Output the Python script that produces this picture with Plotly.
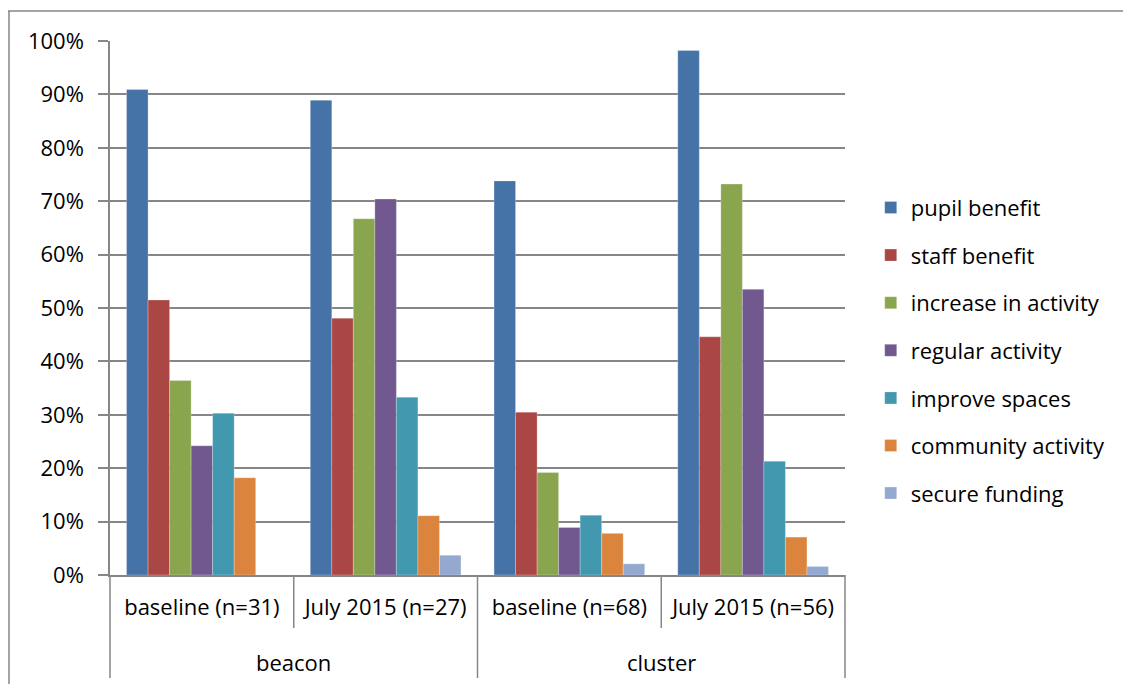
import plotly.graph_objects as go

group_names = ["beacon", "cluster"]
periods = ["baseline (n=31)", "July 2015 (n=27)", "baseline (n=68)", "July 2015 (n=56)"]

series_names = ["pupil benefit", "staff benefit", "increase in activity", "regular activity",
                "improve spaces", "community activity", "secure funding"]
pupil_benefit = [0.909, 0.889, 0.738, 0.982]
staff_benefit = [0.515, 0.481, 0.305, 0.446]
increase_in_activity = [0.364, 0.667, 0.192, 0.732]
regular_activity = [0.242, 0.704, 0.089, 0.535]
improve_spaces = [0.303, 0.333, 0.112, 0.213]
community_activity = [0.182, 0.111, 0.078, 0.071]
secure_funding = [0.0, 0.037, 0.021, 0.016]
colors = ["#4572A7", "#AA4643", "#89A54E", "#71588F", "#4198AF", "#DB843D", "#93A9CF"]

all_values = [pupil_benefit, staff_benefit, increase_in_activity, regular_activity,
              improve_spaces, community_activity, secure_funding]

FONT = "Open Sans"
FS = 22
GRID = "#868686"

fig = go.Figure()
for name, vals, col in zip(series_names, all_values, colors):
    fig.add_trace(go.Bar(
        x=periods, y=vals, name=name, legendgroup=name,
        marker=dict(color=col, line=dict(color="rgba(255,255,255,0.5)", width=0.5)),
    ))

# page has an 8px body margin; figure is sized to fit the window
W, H = 1123, 676
L, T = 102, 33
R = W - 837
B = H - 567
pw, ph = W - L - R, H - T - B

shapes = [
    # chart border (top and left)
    dict(type="line", xref="paper", yref="paper",
         x0=(0 - L) / pw, x1=(W - L) / pw, y0=(ph + T - 3) / ph, y1=(ph + T - 3) / ph,
         line=dict(color=GRID, width=1.5)),
    dict(type="line", xref="paper", yref="paper",
         x0=(1 - L) / pw, x1=(1 - L) / pw, y0=(ph + T - 3) / ph, y1=-B / ph,
         line=dict(color=GRID, width=1.5)),
]
# category boundary ticks (short) and group dividers (long)
n = len(periods)
for i in range(n + 1):
    long_line = (i % 2 == 0)
    depth = 103 if long_line else 53
    shapes.append(dict(type="line", xref="paper", yref="paper",
                       x0=i / n, x1=i / n, y0=0, y1=-depth / ph,
                       line=dict(color=GRID, width=1.5)))

annotations = []
for j, g in enumerate(group_names):
    annotations.append(dict(text=g, xref="paper", yref="paper", x=(2 * j + 1) / n,
                            y=-87 / ph, xanchor="center", yanchor="middle",
                            showarrow=False, font=dict(family=FONT, size=FS, color="#000")))

fig.update_layout(
    width=W, height=H,
    margin=dict(l=L, r=R, t=T, b=B, pad=0),
    barmode="group", bargap=0.18, bargroupgap=0,
    plot_bgcolor="white", paper_bgcolor="white",
    font=dict(family=FONT, size=FS, color="#000000"),
    legend=dict(x=1.035, y=0.42, xanchor="left", yanchor="middle",
                font=dict(family=FONT, size=FS), tracegroupgap=16,
                itemwidth=30, bgcolor="rgba(0,0,0,0)"),
    xaxis=dict(type="category", showline=True, linecolor=GRID, linewidth=1.5,
               ticks="", ticklabelstandoff=12,
               tickfont=dict(family=FONT, size=FS), showgrid=False),
    yaxis=dict(range=[0, 1], dtick=0.1, tickformat=".0%", showgrid=True, gridcolor=GRID,
               gridwidth=1.5, showline=True, linecolor=GRID, linewidth=1.5,
               ticks="outside", ticklen=10, tickcolor=GRID, tickwidth=1.5,
               ticklabelstandoff=10,
               tickfont=dict(family=FONT, size=FS), zeroline=False),
    shapes=shapes,
    annotations=annotations,
)

fig.write_html("out.html")
